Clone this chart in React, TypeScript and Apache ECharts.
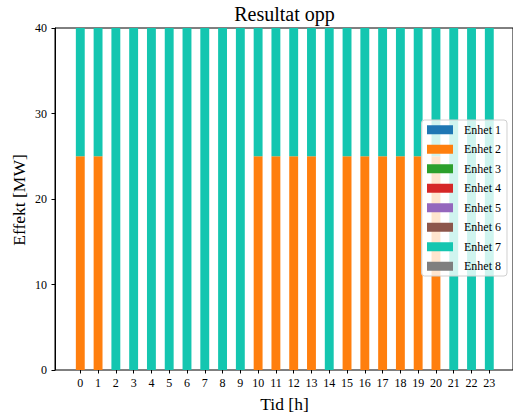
import React, { useEffect, useRef } from "react";
import * as echarts from "echarts";

const hours = ["0", "1", "2", "3", "4", "5", "6", "7", "8", "9", "10", "11", "12", "13", "14", "15", "16", "17", "18", "19", "20", "21", "22", "23"];
const unitNames = ["Enhet 1", "Enhet 2", "Enhet 3", "Enhet 4", "Enhet 5", "Enhet 6", "Enhet 7", "Enhet 8"];
const unitColors = ["#1f77b4", "#ff7f0e", "#2ca02c", "#d62728", "#9467bd", "#8c564b", "#14c6b0", "#7f7f7f"];
const enhet1 = [0, 0, 0, 0, 0, 0, 0, 0, 0, 0, 0, 0, 0, 0, 0, 0, 0, 0, 0, 0, 0, 0, 0, 0];
const enhet2 = [25, 25, 0, 0, 0, 0, 0, 0, 0, 0, 25, 25, 25, 25, 0, 25, 25, 25, 25, 25, 25, 0, 0, 0];
const enhet3 = [0, 0, 0, 0, 0, 0, 0, 0, 0, 0, 0, 0, 0, 0, 0, 0, 0, 0, 0, 0, 0, 0, 0, 0];
const enhet4 = [0, 0, 0, 0, 0, 0, 0, 0, 0, 0, 0, 0, 0, 0, 0, 0, 0, 0, 0, 0, 0, 0, 0, 0];
const enhet5 = [0, 0, 0, 0, 0, 0, 0, 0, 0, 0, 0, 0, 0, 0, 0, 0, 0, 0, 0, 0, 0, 0, 0, 0];
const enhet6 = [0, 0, 0, 0, 0, 0, 0, 0, 0, 0, 0, 0, 0, 0, 0, 0, 0, 0, 0, 0, 0, 0, 0, 0];
const enhet7 = [15, 15, 40, 40, 40, 40, 40, 40, 40, 40, 15, 15, 15, 15, 40, 15, 15, 15, 15, 15, 15, 40, 40, 40];
const enhet8 = [0, 0, 0, 0, 0, 0, 0, 0, 0, 0, 0, 0, 0, 0, 0, 0, 0, 0, 0, 0, 0, 0, 0, 0];
const unitValues = [enhet1, enhet2, enhet3, enhet4, enhet5, enhet6, enhet7, enhet8];

const FONT = "'Liberation Serif', 'Times New Roman', serif";

export default function App() {
  const ref = useRef<HTMLDivElement>(null);
  useEffect(() => {
    if (!ref.current) return;
    const chart = echarts.init(ref.current, undefined, { renderer: "svg" });
    const series = unitNames.map((name, i) => ({
      name,
      type: "bar",
      stack: "total",
      barWidth: "50%",
      xAxisIndex: 0,
      yAxisIndex: 0,
      itemStyle: { color: unitColors[i] },
      data: unitValues[i],
    }));
    chart.setOption({
      animation: false,
      grid: [
        { left: 71.4, right: 14.8, top: 28, bottom: 46 },
        {
          left: 55,
          right: -1,
          top: 28,
          bottom: 46,
          show: true,
          borderColor: "#000",
          borderWidth: 1,
          backgroundColor: "transparent",
        },
      ],
      xAxis: [
        {
          type: "category",
          gridIndex: 0,
          data: hours,
          boundaryGap: true,
          axisLine: { show: false },
          axisTick: { show: true, alignWithLabel: true, length: 3.5, lineStyle: { color: "#000" } },
          axisLabel: { color: "#000", fontFamily: FONT, fontSize: 12, margin: 7, interval: 0 },
          splitLine: { show: false },
        },
        {
          type: "value",
          gridIndex: 1,
          min: 0,
          max: 1,
          show: false,
        },
      ],
      yAxis: [
        {
          type: "value",
          gridIndex: 0,
          min: 0,
          max: 40,
          interval: 10,
          show: false,
        },
        {
          type: "value",
          gridIndex: 1,
          min: 0,
          max: 40,
          interval: 10,
          splitLine: { show: false },
          axisLine: { show: true, onZero: false, lineStyle: { color: "#000", width: 1 } },
          axisTick: { show: true, length: 3.5, lineStyle: { color: "#000" } },
          axisLabel: { color: "#000", fontFamily: FONT, fontSize: 12, margin: 8 },
        },
      ],
      legend: {
        orient: "vertical",
        left: 421.5,
        top: 120,
        data: unitNames,
        icon: "rect",
        itemWidth: 26,
        itemHeight: 9,
        itemGap: 5,
        padding: [2.5, 6, 2.5, 5.5],
        backgroundColor: "rgba(255,255,255,0.8)",
        borderColor: "#d0d0d0",
        borderWidth: 1,
        borderRadius: 3,
        textStyle: {
          fontFamily: FONT,
          fontSize: 12,
          color: "#000",
          lineHeight: 14.5,
          padding: [0, 0, 0, 6],
        },
      },
      graphic: [
        {
          type: "text",
          x: 284.5,
          y: 14,
          style: {
            text: "Resultat opp",
            fontFamily: FONT,
            fontSize: 20,
            fill: "#000",
            align: "center",
            verticalAlign: "middle",
          },
        },
        {
          type: "text",
          x: 284.5,
          y: 404,
          style: {
            text: "Tid [h]",
            fontFamily: FONT,
            fontSize: 17.5,
            fill: "#000",
            align: "center",
            verticalAlign: "middle",
          },
        },
        {
          type: "text",
          x: 19,
          y: 200,
          rotation: Math.PI / 2,
          style: {
            text: "Effekt [MW]",
            fontFamily: FONT,
            fontSize: 17.5,
            fill: "#000",
            align: "center",
            verticalAlign: "middle",
          },
        },
      ],
      series,
    });
    return () => chart.dispose();
  }, []);
  return (
    <div
      ref={ref}
      style={{ position: "fixed", left: 0, top: 0, width: 513, height: 416, background: "#fff" }}
    />
  );
}
